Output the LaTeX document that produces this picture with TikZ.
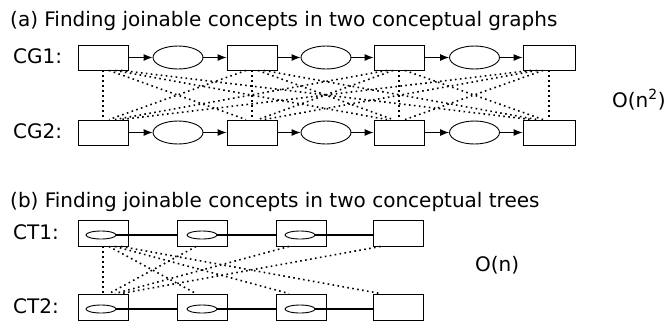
\documentclass[tikz,border=0pt]{standalone}
\usepackage{fontspec}
\setmainfont{DejaVu Sans}
\usetikzlibrary{shapes.geometric,arrows.meta}

\tikzset{
  concept/.style={draw, rectangle, line width=0.9pt, minimum width=50pt, minimum height=25pt, inner sep=0pt},
  relation/.style={draw, ellipse, line width=0.9pt, minimum width=50pt, minimum height=23pt, inner sep=0pt},
  inner/.style={draw, ellipse, line width=0.9pt, minimum width=30pt, minimum height=8pt, inner sep=0pt},
  link/.style={line width=0.9pt, -{Latex[length=9pt,width=7pt]}},
  treeedge/.style={line width=1.5pt},
  match/.style={line width=1.6pt, dash pattern=on 1.6pt off 3.4pt},
  lbl/.style={anchor=base west, inner sep=0pt, font=\fontsize{20}{24}\selectfont},
}

\begin{document}
\begin{tikzpicture}[x=1pt, y=-1pt]
\useasboundingbox (0,0) rectangle (669,322);

% ---------- (a) conceptual graphs ----------
\node[lbl] (ta) at (10,26) {(a) Finding joinable concepts in two conceptual graphs};
\node[lbl] (cg1) at (13,63) {CG1:};
\node[lbl] (cg2) at (13,138) {CG2:};
\node[lbl] (ona) at (612,107) {O(n\textsuperscript{2})};

\foreach \r/\y in {a/57.5, b/132.5} {
  \node[concept] (\r1) at (103,\y) {};
  \node[relation] (\r e1) at (178,\y) {};
  \node[concept] (\r2) at (252,\y) {};
  \node[relation] (\r e2) at (326,\y) {};
  \node[concept] (\r3) at (399,\y) {};
  \node[relation] (\r e3) at (474.5,\y) {};
  \node[concept, minimum width=52pt] (\r4) at (549,\y) {};
  \draw[link] (\r1) -- (\r e1);
  \draw[link] (\r e1) -- (\r2);
  \draw[link] (\r2) -- (\r e2);
  \draw[link] (\r e2) -- (\r3);
  \draw[link] (\r3) -- (\r e3);
  \draw[link] (\r e3) -- (\r4);
}

% every concept of CG1 against every concept of CG2
\foreach \i in {1,...,4} {
  \foreach \j in {1,...,4} {
    \pgfmathsetmacro{\d}{6*(\j-\i)}
    \draw[match] ([xshift=\d pt]a\i.south) -- ([xshift=-\d pt]b\j.north);
  }
}

% ---------- (b) conceptual trees ----------
\node[lbl] (tb) at (10,207) {(b) Finding joinable concepts in two conceptual trees};
\node[lbl] (ct1) at (13,239) {CT1:};
\node[lbl] (ct2) at (13,313) {CT2:};
\node[lbl] (onb) at (475,271) {O(n)};

\foreach \r/\y in {c/233, d/307} {
  \node[concept, minimum height=26pt] (\r1) at (103,\y) {};
  \node[concept, minimum height=26pt] (\r2) at (202,\y) {};
  \node[concept, minimum height=26pt] (\r3) at (301,\y) {};
  \node[concept, minimum height=26pt] (\r4) at (398.5,\y) {};
  \node[inner] (\r i1) at (101,\y+2) {};
  \node[inner] (\r i2) at (202,\y+2) {};
  \node[inner] (\r i3) at (300,\y+2) {};
  \draw[treeedge] (\r i1.east) -- (\r i1.east -| \r2.west);
  \draw[treeedge] (\r i2.east) -- (\r i2.east -| \r3.west);
  \draw[treeedge] (\r i3.east) -- (\r i3.east -| \r4.west);
}

% first concept of each tree against every concept of the other tree
\draw[match] (c1.south) -- (d1.north);
\foreach \j in {2,3,4} {
  \pgfmathsetmacro{\d}{6*(\j-1)}
  \draw[match] ([xshift=\d pt]c1.south) -- ([xshift=-\d pt]d\j.north);
  \draw[match] ([xshift=-\d pt]c\j.south) -- ([xshift=\d pt]d1.north);
}
\end{tikzpicture}
\end{document}
